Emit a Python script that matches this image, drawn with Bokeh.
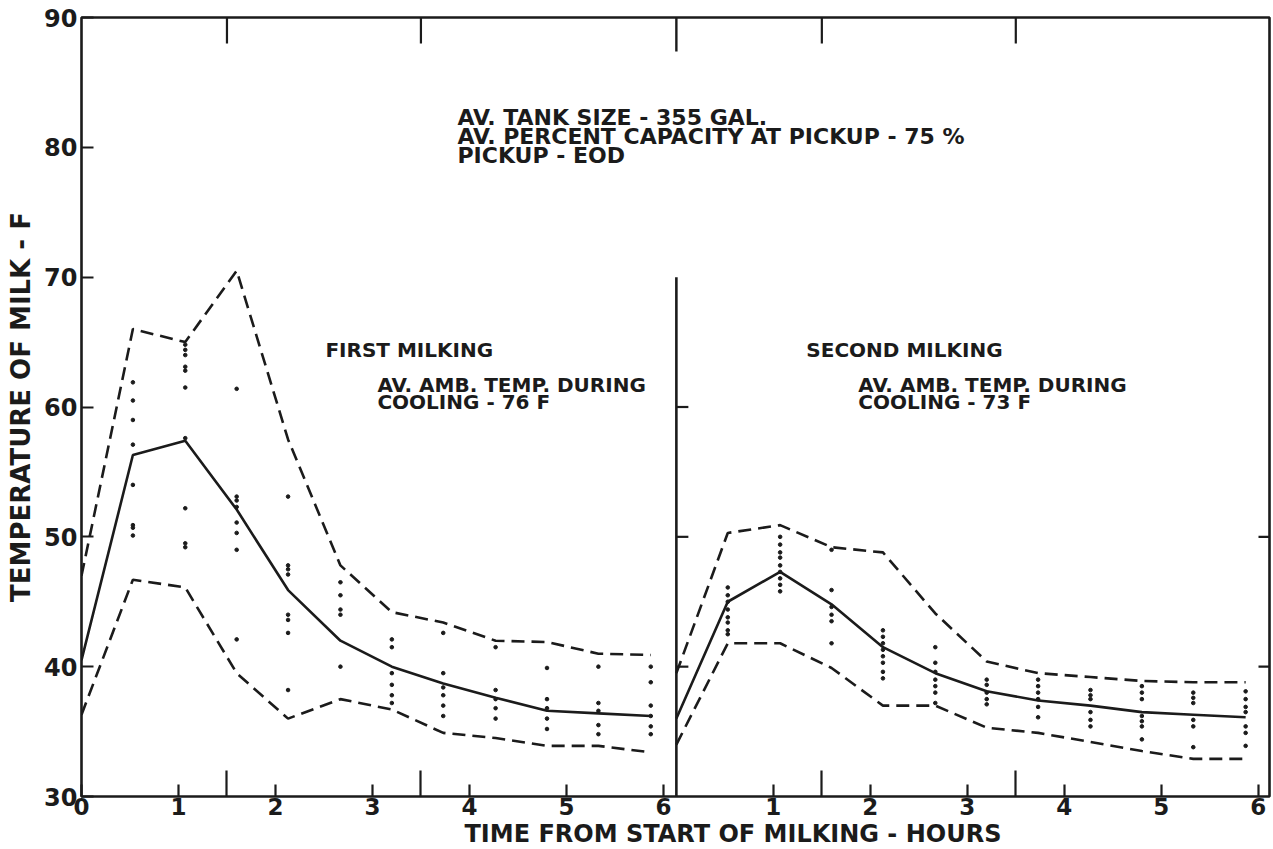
from bokeh.plotting import figure
from bokeh.models import (Range1d, FixedTicker, CustomJSTickFormatter, Label, Title)
from bokeh.embed import file_html
from bokeh.resources import INLINE

# ---------------- data ----------------
times = [0.0, 0.53, 1.07, 1.6, 2.13, 2.67, 3.2, 3.73, 4.27, 4.8, 5.33, 5.87]

first_mean = [40.5, 56.3, 57.4, 52.1, 45.9, 42.0, 40.0, 38.7, 37.6, 36.6, 36.4, 36.2]
first_upper = [47.0, 66.0, 65.0, 70.5, 57.5, 47.8, 44.2, 43.4, 42.0, 41.9, 41.0, 40.9]
first_lower = [36.3, 46.7, 46.1, 39.5, 36.0, 37.5, 36.7, 34.9, 34.5, 33.9, 33.9, 33.4]

second_mean = [36.0, 45.0, 47.3, 44.8, 41.5, 39.5, 38.1, 37.4, 37.0, 36.5, 36.3, 36.1]
second_upper = [39.5, 50.3, 50.9, 49.2, 48.8, 44.1, 40.4, 39.5, 39.2, 38.9, 38.8, 38.8]
second_lower = [34.0, 41.8, 41.8, 39.9, 37.0, 37.0, 35.3, 34.9, 34.2, 33.5, 32.9, 32.9]

first_obs = [
    [],
    [61.9, 60.5, 59.0, 57.1, 54.0, 50.9, 50.7, 50.1],
    [64.8, 64.4, 64.0, 63.1, 62.8, 61.5, 57.6, 52.2, 49.5, 49.2],
    [61.4, 53.1, 52.8, 52.3, 51.1, 50.3, 49.0, 42.1],
    [53.1, 47.8, 47.5, 47.1, 44.0, 43.6, 42.6, 38.2],
    [46.5, 45.5, 44.4, 44.0, 40.0],
    [42.1, 41.5, 39.5, 38.6, 37.8, 37.2],
    [42.6, 39.5, 38.4, 37.8, 37.0, 36.2],
    [41.5, 38.2, 37.5, 36.8, 36.0],
    [39.9, 37.5, 36.8, 36.0, 35.2],
    [40.0, 37.2, 36.6, 35.5, 34.8],
    [40.0, 38.8, 37.0, 36.2, 35.4, 34.8],
]

second_obs = [
    [],
    [46.1, 45.5, 45.0, 44.4, 43.8, 43.4, 42.8, 42.5],
    [50.0, 49.4, 48.8, 48.4, 47.8, 47.3, 46.8, 46.3, 45.8],
    [49.0, 45.9, 44.6, 44.0, 43.5, 41.8],
    [42.8, 42.3, 41.8, 41.3, 40.8, 40.3, 39.6, 39.1],
    [41.5, 40.3, 39.6, 39.0, 38.5, 38.0, 37.2],
    [39.0, 38.6, 38.0, 37.5, 37.1],
    [39.0, 38.5, 38.0, 37.5, 36.9, 36.1],
    [38.2, 37.8, 37.5, 36.5, 35.9, 35.4],
    [38.5, 38.0, 37.5, 36.2, 35.8, 35.4, 34.4],
    [38.0, 37.6, 37.2, 35.9, 35.4, 33.8],
    [38.1, 37.5, 36.9, 36.5, 35.4, 34.9, 33.9],
]

hour_ticks = [0, 1, 2, 3, 4, 5, 6]
long_ticks = [1.5, 3.5]
y_ticks = [30, 40, 50, 60, 70, 80, 90]
right_ticks = [40, 50]
divider_ticks = [40, 50, 60]

# ---------------- layout constants ----------------
OFF = 6.134          # where the second panel's time axis starts
XMAX = 12.25
INK = "#1b1b1b"
FONT = "DejaVu Sans"
PX_X = 97.0          # pixels per hour
PX_Y = 12.97         # pixels per degree

p = figure(width=1271, height=847, output_backend="svg", toolbar_location=None,
           x_range=Range1d(0, XMAX), y_range=Range1d(30, 90),
           min_border_left=81, min_border_right=2, min_border_top=17, min_border_bottom=51,
           background_fill_color="white", border_fill_color="white")
p.grid.visible = False
p.outline_line_color = INK
p.outline_line_width = 2.6

# bottom axis
xt = hour_ticks + [OFF + h for h in hour_ticks[1:]]
xminor = long_ticks + [OFF + h for h in long_ticks]
p.xaxis.ticker = FixedTicker(ticks=xt, minor_ticks=xminor)
p.xaxis.formatter = CustomJSTickFormatter(code="""
    var v = tick > 6.05 ? tick - %f : tick;
    return Math.round(v).toString();
""" % OFF)
p.xaxis.axis_line_color = None
p.xaxis.major_tick_in = 12
p.xaxis.major_tick_out = 0
p.xaxis.minor_tick_in = 26
p.xaxis.minor_tick_out = 0
p.xaxis.major_tick_line_width = 2.2
p.xaxis.minor_tick_line_width = 2.2
p.xaxis.major_tick_line_color = INK
p.xaxis.minor_tick_line_color = INK
p.xaxis.major_label_text_font = FONT
p.xaxis.major_label_text_font_size = "23px"
p.xaxis.major_label_text_font_style = "bold"
p.xaxis.major_label_text_color = INK
p.xaxis.major_label_standoff = 1

p.add_layout(Title(text="TIME FROM START OF MILKING - HOURS", align="left", offset=383,
                   standoff=0, text_font=FONT, text_font_size="24px",
                   text_font_style="bold", text_color=INK), "below")

# left axis
p.yaxis.ticker = FixedTicker(ticks=y_ticks, minor_ticks=[])
p.yaxis.axis_line_color = None
p.yaxis.major_tick_in = 12
p.yaxis.major_tick_out = 0
p.yaxis.major_tick_line_width = 2.2
p.yaxis.major_tick_line_color = INK
p.yaxis.major_label_text_font = FONT
p.yaxis.major_label_text_font_size = "24px"
p.yaxis.major_label_text_font_style = "bold"
p.yaxis.major_label_text_color = INK
p.yaxis.major_label_standoff = 4
p.yaxis.axis_label = "TEMPERATURE OF MILK - F"
p.yaxis.axis_label_text_font = FONT
p.yaxis.axis_label_text_font_style = "bold"
p.yaxis.axis_label_text_font_size = "26px"
p.yaxis.axis_label_text_color = INK
p.yaxis.axis_label_standoff = 5

# frame decorations: long inward ticks on top, ticks on the right edge and the divider
top_x = xminor
p.segment(x0=top_x, y0=[90] * len(top_x), x1=top_x, y1=[90 - 26 / PX_Y] * len(top_x),
          line_color=INK, line_width=2.2)
p.segment(x0=[XMAX] * len(right_ticks), y0=right_ticks,
          x1=[XMAX - 11 / PX_X] * len(right_ticks), y1=right_ticks,
          line_color=INK, line_width=2.2)
p.segment(x0=[OFF], y0=[30], x1=[OFF], y1=[70], line_color=INK, line_width=2.6)
p.segment(x0=[OFF], y0=[90], x1=[OFF], y1=[90 - 34 / PX_Y], line_color=INK, line_width=2.4)
p.segment(x0=[OFF] * len(divider_ticks), y0=divider_ticks,
          x1=[OFF + 12 / PX_X] * len(divider_ticks), y1=divider_ticks,
          line_color=INK, line_width=2.2)

# ---------------- series ----------------
def draw_panel(offset, mean, upper, lower, obs):
    xs = [offset + t for t in times]
    p.line(xs, upper, line_color=INK, line_width=2.6, line_dash="13 7")
    p.line(xs, lower, line_color=INK, line_width=2.6, line_dash="13 7")
    p.line(xs, mean, line_color=INK, line_width=2.6)
    ox, oy = [], []
    for t, vals in zip(times, obs):
        for v in vals:
            ox.append(offset + t)
            oy.append(v)
    p.scatter(ox, oy, size=3.6, color=INK, marker="circle")

draw_panel(0.0, first_mean, first_upper, first_lower, first_obs)
draw_panel(OFF, second_mean, second_upper, second_lower, second_obs)

# ---------------- annotations ----------------
def ux(px):
    return (px - 81) / PX_X

def vy(py):
    return 30 + (796 - py) / PX_Y

def note(text, px, py, size="20px"):
    p.add_layout(Label(x=ux(px), y=vy(py), text=text, text_font=FONT,
                       text_font_size=size, text_font_style="bold", text_color=INK,
                       text_align="left", text_baseline="middle"))

note("AV. TANK SIZE - 355 GAL.", 457, 118, "22px")
note("AV. PERCENT CAPACITY AT PICKUP - 75 %", 457, 137, "22px")
note("PICKUP - EOD", 457, 156, "22px")

note("FIRST MILKING", 325, 350)
note("AV. AMB. TEMP. DURING", 377, 385)
note("COOLING - 76 F", 377, 402)

note("SECOND MILKING", 806, 350)
note("AV. AMB. TEMP. DURING", 858, 385)
note("COOLING - 73 F", 858, 402)

open("out.html", "w").write(file_html(p, INLINE))
